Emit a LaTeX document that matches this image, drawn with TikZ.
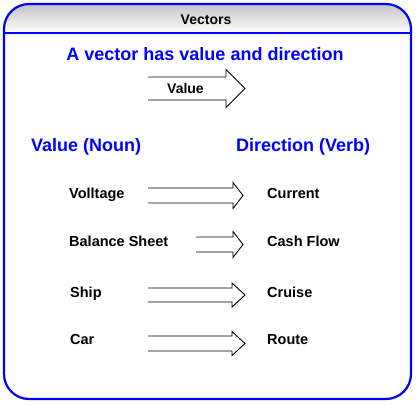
\documentclass[tikz,border=0pt]{standalone}
\usepackage{fontspec}
\setmainfont{Liberation Sans}
\usepackage{tikz}
\usetikzlibrary{positioning,calc}
\usepackage{xcolor}
\definecolor{vecblue}{RGB}{0,0,255}
\definecolor{hdrgrey}{RGB}{196,196,196}
\tikzset{
    heading/.style={font=\fontsize{18}{20}\selectfont\bfseries, text=vecblue,
                    inner sep=0pt},
    word/.style={font=\fontsize{14.5}{16}\selectfont\bfseries, text=black,
                 inner sep=0pt, anchor=base west},
    pics/hollowarrow/.style n args={4}{code={
        \draw[line width=0.9pt, black]
            (0,-#2) -- ({#1-#3},-#2) -- ({#1-#3},-#4) -- (#1,0)
            -- ({#1-#3},#4) -- ({#1-#3},#2) -- (0,#2);
    }},
}

\begin{document}
\begin{tikzpicture}[x=1pt, y=-1pt,
    frame/.style={draw=vecblue, line width=2.2pt, rounded corners=25pt}
]
    \useasboundingbox (0,0) rectangle (416,405);

    \shade[top color=hdrgrey, bottom color=white, rounded corners=25pt]
        (4,33) -- (4,4) -- (411,4) [sharp corners] -- (411,33) -- cycle;
    \draw[frame] (4,4) rectangle (411,399);
    \draw[draw=vecblue, line width=2.2pt] (4,33) -- (411,33);

    \node[font=\fontsize{14}{16}\selectfont\bfseries, inner sep=0pt, anchor=base]
        (hdr) at (206,24) {Vectors};
    \node[heading, anchor=base] (title) at (205,60) {A vector has value and direction};

    \pic (valarrow) at (148,88.5) {hollowarrow={97}{11.5}{19}{19}};
    \node[word, font=\fontsize{14}{16}\selectfont\bfseries] (value) at (167,93) {Value};

    \node[heading, anchor=base west] (noun) at (31,151) {Value (Noun)};
    \node[heading, anchor=base west] (verb) at (236,151) {Direction (Verb)};

    \node[word] (volt) at (69,198) {Volltage};
    \node[word] (curr) at (267,198) {Current};
    \pic (a1) at (148,195.5) {hollowarrow={95}{7.5}{10}{13}};

    \node[word] (bal) at (69,246) {Balance Sheet};
    \node[word] (cash) at (267,246) {Cash Flow};
    \pic (a2) at (196,244.5) {hollowarrow={47}{7.5}{10}{13}};

    \node[word] (ship) at (70,297) {Ship};
    \node[word] (cruise) at (267,297) {Cruise};
    \pic (a3) at (148,295) {hollowarrow={97}{7}{13}{12}};

    \node[word] (car) at (70,344) {Car};
    \node[word] (route) at (267,344) {Route};
    \pic (a4) at (148,343.5) {hollowarrow={97}{7.5}{13}{12}};
\end{tikzpicture}
\end{document}
